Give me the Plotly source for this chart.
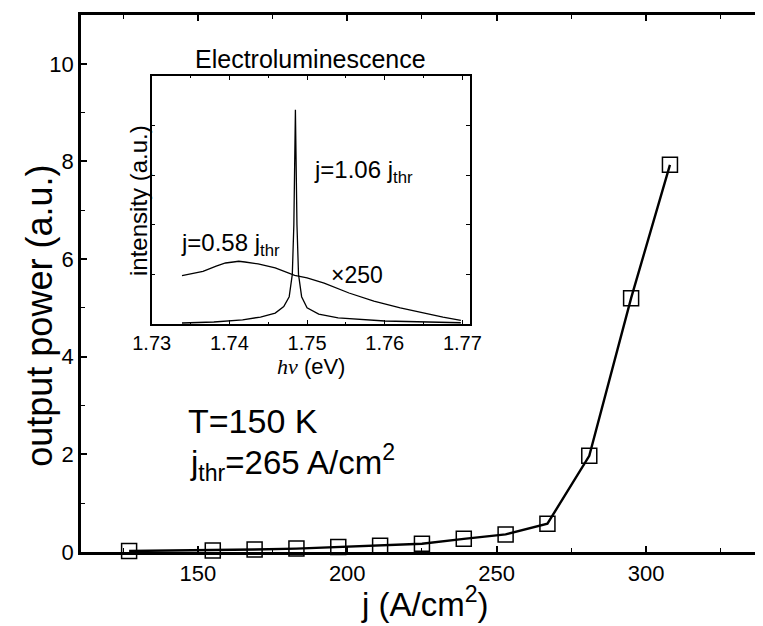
import plotly.graph_objects as go

# ---- main data: output power vs current density ----
j_vals = [127, 155, 169, 183, 197, 211, 225, 239, 253, 267, 281, 295, 308]
power_vals = [0.02, 0.03, 0.05, 0.07, 0.10, 0.13, 0.17, 0.27, 0.36, 0.58, 1.97, 5.20, 7.93]

# ---- inset: electroluminescence spectra (normalised intensity) ----
e_broad = [1.7339, 1.7350, 1.7366, 1.7383, 1.7395, 1.7405, 1.7412, 1.7420, 1.7437, 1.7459,
           1.7484, 1.7500, 1.7522, 1.7554, 1.7586, 1.7620, 1.7649, 1.7675, 1.7698]
i_broad = [0.195, 0.203, 0.212, 0.233, 0.246, 0.250, 0.253, 0.250, 0.242, 0.226,
           0.196, 0.186, 0.165, 0.125, 0.092, 0.065, 0.044, 0.028, 0.015]

e_narrow = [1.7339, 1.7380, 1.7417, 1.7440, 1.7459, 1.7470, 1.7477, 1.7481, 1.7483, 1.7485,
            1.7487, 1.7489, 1.7493, 1.7500, 1.7515, 1.7540, 1.7600, 1.7698]
i_narrow = [0.004, 0.008, 0.017, 0.028, 0.044, 0.070, 0.110, 0.200, 0.400, 0.864,
            0.400, 0.200, 0.110, 0.065, 0.040, 0.025, 0.012, 0.005]

x_ticks = [150, 200, 250, 300]
y_ticks = [0, 2, 4, 6, 8, 10]
inset_x_ticks = [1.73, 1.74, 1.75, 1.76, 1.77]
inset_x_labels = ["1.73", "1.74", "1.75", "1.76", "1.77"]

FONT = "Liberation Sans, Arial, Helvetica, sans-serif"
BLACK = "#000000"

fig = go.Figure()

fig.add_trace(go.Scatter(
    x=j_vals, y=power_vals, mode="lines+markers",
    line=dict(color=BLACK, width=2.4),
    marker=dict(symbol="square-open", size=15, color=BLACK, line=dict(width=1.5, color=BLACK)),
    cliponaxis=False, showlegend=False, xaxis="x", yaxis="y",
))

fig.add_trace(go.Scatter(
    x=e_broad, y=i_broad, mode="lines", line=dict(color=BLACK, width=1.3),
    showlegend=False, xaxis="x2", yaxis="y2",
))
fig.add_trace(go.Scatter(
    x=e_narrow, y=i_narrow, mode="lines", line=dict(color=BLACK, width=1.3),
    showlegend=False, xaxis="x2", yaxis="y2",
))

fig.update_layout(
    width=763, height=626,
    margin=dict(l=73, r=0, t=7, b=82),
    paper_bgcolor="white", plot_bgcolor="white",
    font=dict(family=FONT, color=BLACK),
    xaxis=dict(
        range=[110.9, 337.8], domain=[0, 1],
        tickvals=x_ticks, ticks="inside", ticklen=6, tickwidth=1.5, tickcolor=BLACK,
        minor=dict(dtick=25, ticks="inside", ticklen=4, tickwidth=1, tickcolor=BLACK),
        showline=True, linecolor=BLACK, linewidth=2.5, mirror="ticks",
        showgrid=False, zeroline=False,
        tickfont=dict(size=22, family=FONT, color=BLACK),
    ),
    yaxis=dict(
        range=[0, 11.0], domain=[0, 1],
        tickvals=y_ticks, ticks="inside", ticklen=6, tickwidth=1.5, tickcolor=BLACK,
        minor=dict(dtick=1, ticks="inside", ticklen=4, tickwidth=1, tickcolor=BLACK),
        showline=True, linecolor=BLACK, linewidth=2.5,
        showgrid=False, zeroline=False,
        tickfont=dict(size=22, family=FONT, color=BLACK),
    ),
    xaxis2=dict(
        range=[1.73, 1.771], domain=[0.1043, 0.5740], anchor="y2",
        tickvals=inset_x_ticks, ticktext=inset_x_labels,
        ticks="inside", ticklen=4, tickwidth=1, tickcolor=BLACK,
        minor=dict(dtick=0.005, ticks="inside", ticklen=2, tickwidth=1, tickcolor=BLACK),
        showline=True, linecolor=BLACK, linewidth=1.5, mirror="ticks",
        showgrid=False, zeroline=False,
        tickfont=dict(size=20, family=FONT, color=BLACK),
    ),
    yaxis2=dict(
        range=[0, 1], domain=[0.4246, 0.8864], anchor="x2",
        dtick=0.2, showticklabels=False,
        ticks="inside", ticklen=4, tickwidth=1, tickcolor=BLACK,
        showline=True, linecolor=BLACK, linewidth=1.5, mirror="ticks",
        showgrid=False, zeroline=False,
    ),
)


def px(xp):  # pixel x -> paper
    return (xp - 73) / 690


def py(yp):  # pixel y -> paper
    return (544 - yp) / 537


def ann(text, x, y, size, xanchor="left", yanchor="middle", textangle=0):
    fig.add_annotation(text=text, x=px(x), y=py(y), xref="paper", yref="paper", showarrow=False,
                       xanchor=xanchor, yanchor=yanchor, textangle=textangle, borderpad=0,
                       font=dict(size=size, family=FONT, color=BLACK))


# main axis titles
ann("j (A/cm<sup>2</sup>)", 423, 594, 33, xanchor="center", yanchor="middle")
ann("output power (a.u.)", 30, 308, 36, xanchor="center", textangle=-90)

# main annotations
ann("T=150 K", 181, 413, 34)
ann("j<sub>thr</sub>=265 A/cm<sup>2</sup>", 183, 454, 33)

# inset texts
ann("Electroluminescence", 307, 51, 25, xanchor="center")
ann("intensity (a.u.)", 131, 192, 24, xanchor="center", textangle=-90)
ann("<span style='font-family:Liberation Serif, serif'><i>hν</i></span> (eV)", 307, 358, 22,
    xanchor="center")
ann("j=1.06 j<sub>thr</sub>", 309, 163, 24)
ann("j=0.58 j<sub>thr</sub>", 174, 236, 24)
ann("×250", 326, 267, 23)

fig.write_html("out.html")
